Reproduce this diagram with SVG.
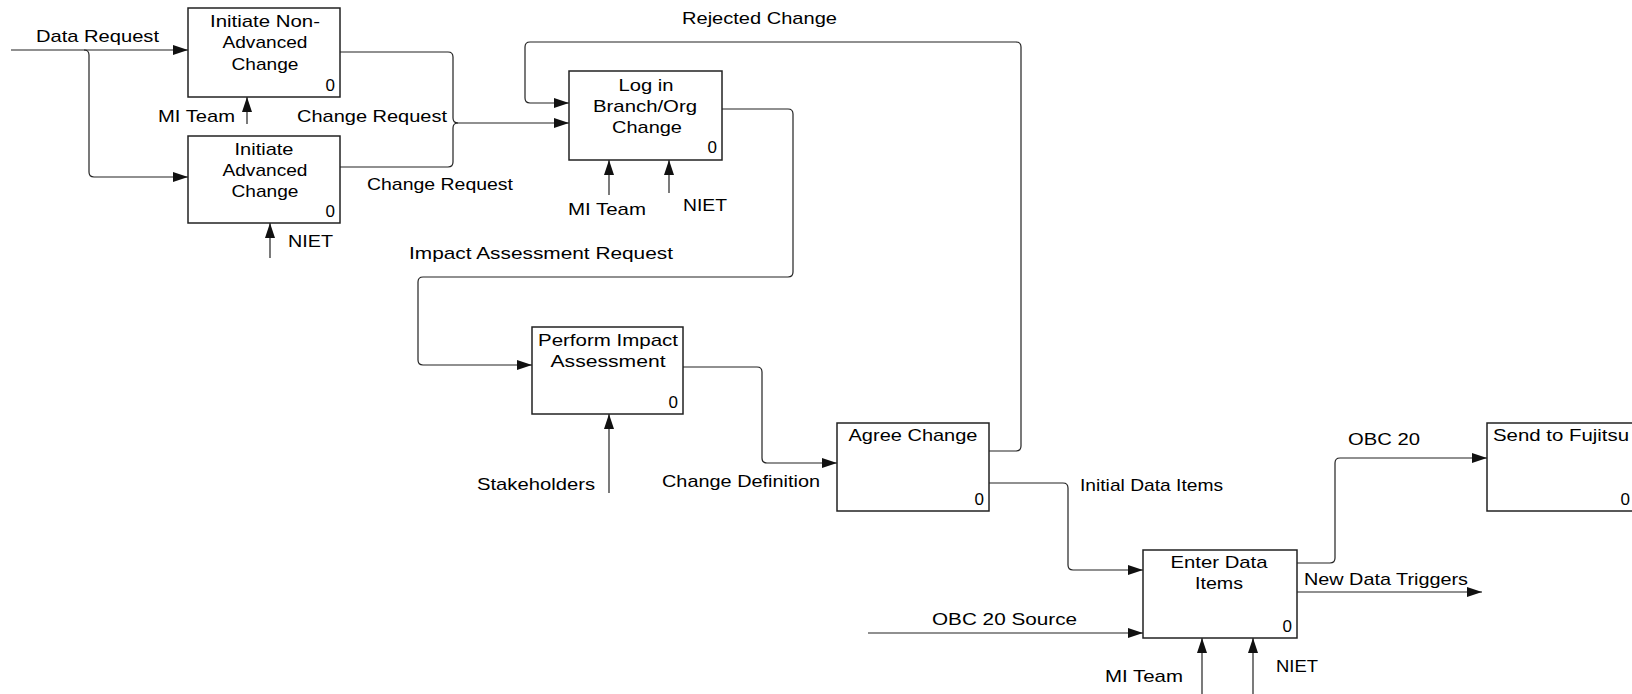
<svg xmlns="http://www.w3.org/2000/svg" width="1632" height="694" viewBox="0 0 1632 694">
<style>
text{font-family:"Liberation Sans",Arial,sans-serif;font-size:17px;fill:#000}
.c{text-anchor:middle}
.e{text-anchor:end}
.box{fill:#fff;stroke:#222;stroke-width:1.5}
.ln{fill:none;stroke:#222;stroke-width:1.2}
</style>
<defs>
<marker id="ar" markerUnits="userSpaceOnUse" markerWidth="16" markerHeight="11" refX="15" refY="5" orient="auto">
<path d="M0,0 L15,5 L0,10 z" fill="#111"/>
</marker>
</defs>
<rect width="1632" height="694" fill="#fff"/>

<g id="connectors">
<path class="ln" d="M11,50 H188" marker-end="url(#ar)"/>
<path class="ln" d="M84,50 Q89,50 89,55 V172 Q89,177 94,177 H188" marker-end="url(#ar)"/>
<path class="ln" d="M340,52 H448 Q453,52 453,57 V118 Q453,123 458,123 H569" marker-end="url(#ar)"/>
<path class="ln" d="M340,167 H448 Q453,167 453,162 V128 Q453,123 458,123"/>
<path class="ln" d="M247,124 V97" marker-end="url(#ar)"/>
<path class="ln" d="M270,258 V223" marker-end="url(#ar)"/>
<path class="ln" d="M989,451 H1016 Q1021,451 1021,446 V47 Q1021,42 1016,42 H530 Q525,42 525,47 V98 Q525,103 530,103 H569" marker-end="url(#ar)"/>
<path class="ln" d="M609,195 V160" marker-end="url(#ar)"/>
<path class="ln" d="M669,193 V160" marker-end="url(#ar)"/>
<path class="ln" d="M722,109 H788 Q793,109 793,114 V272 Q793,277 788,277 H423 Q418,277 418,282 V360 Q418,365 423,365 H532" marker-end="url(#ar)"/>
<path class="ln" d="M609,493 V414" marker-end="url(#ar)"/>
<path class="ln" d="M683,367 H757 Q762,367 762,372 V458 Q762,463 767,463 H837" marker-end="url(#ar)"/>
<path class="ln" d="M989,483 H1063 Q1068,483 1068,488 V565 Q1068,570 1073,570 H1143" marker-end="url(#ar)"/>
<path class="ln" d="M868,633 H1143" marker-end="url(#ar)"/>
<path class="ln" d="M1202,694 V638" marker-end="url(#ar)"/>
<path class="ln" d="M1253,694 V638" marker-end="url(#ar)"/>
<path class="ln" d="M1297,563 H1330 Q1335,563 1335,558 V463 Q1335,458 1340,458 H1487" marker-end="url(#ar)"/>
<path class="ln" d="M1297,592 H1482" marker-end="url(#ar)"/>

<text x="36" y="42" textLength="123" lengthAdjust="spacingAndGlyphs">Data Request</text>
<text x="158" y="122" textLength="77" lengthAdjust="spacingAndGlyphs">MI Team</text>
<text x="297" y="122" textLength="150" lengthAdjust="spacingAndGlyphs">Change Request</text>
<text x="367" y="190" textLength="146" lengthAdjust="spacingAndGlyphs">Change Request</text>
<text x="288" y="247" textLength="45" lengthAdjust="spacingAndGlyphs">NIET</text>
<text x="682" y="24" textLength="155" lengthAdjust="spacingAndGlyphs">Rejected Change</text>
<text x="568" y="215" textLength="78" lengthAdjust="spacingAndGlyphs">MI Team</text>
<text x="683" y="211" textLength="44" lengthAdjust="spacingAndGlyphs">NIET</text>
<text x="409" y="259" textLength="264" lengthAdjust="spacingAndGlyphs">Impact Assessment Request</text>
<text x="477" y="490" textLength="118" lengthAdjust="spacingAndGlyphs">Stakeholders</text>
<text x="662" y="487" textLength="158" lengthAdjust="spacingAndGlyphs">Change Definition</text>
<text x="1080" y="491" textLength="143" lengthAdjust="spacingAndGlyphs">Initial Data Items</text>
<text x="932" y="625" textLength="145" lengthAdjust="spacingAndGlyphs">OBC 20 Source</text>
<text x="1105" y="682" textLength="78" lengthAdjust="spacingAndGlyphs">MI Team</text>
<text x="1276" y="672" textLength="42" lengthAdjust="spacingAndGlyphs">NIET</text>
<text x="1348" y="445" textLength="72" lengthAdjust="spacingAndGlyphs">OBC 20</text>
<text x="1304" y="585" textLength="164" lengthAdjust="spacingAndGlyphs">New Data Triggers</text>
</g>

<g id="node-initiate-non-advanced">
<rect class="box" x="188" y="8" width="152" height="89"/>
<text class="c" x="265" y="27" textLength="110" lengthAdjust="spacingAndGlyphs">Initiate Non-</text>
<text class="c" x="265" y="48" textLength="85" lengthAdjust="spacingAndGlyphs">Advanced</text>
<text class="c" x="265" y="70" textLength="67" lengthAdjust="spacingAndGlyphs">Change</text>
<text class="e" x="335" y="91">0</text>
</g>

<g id="node-initiate-advanced">
<rect class="box" x="188" y="136" width="152" height="87"/>
<text class="c" x="264" y="155" textLength="59" lengthAdjust="spacingAndGlyphs">Initiate</text>
<text class="c" x="265" y="176" textLength="85" lengthAdjust="spacingAndGlyphs">Advanced</text>
<text class="c" x="265" y="197" textLength="67" lengthAdjust="spacingAndGlyphs">Change</text>
<text class="e" x="335" y="217">0</text>
</g>

<g id="node-log-in">
<rect class="box" x="569" y="71" width="153" height="89"/>
<text class="c" x="646" y="91" textLength="55" lengthAdjust="spacingAndGlyphs">Log in</text>
<text class="c" x="645" y="112" textLength="104" lengthAdjust="spacingAndGlyphs">Branch/Org</text>
<text class="c" x="647" y="133" textLength="70" lengthAdjust="spacingAndGlyphs">Change</text>
<text class="e" x="717" y="153">0</text>
</g>

<g id="node-perform-impact">
<rect class="box" x="532" y="327" width="151" height="87"/>
<text class="c" x="608" y="346" textLength="140" lengthAdjust="spacingAndGlyphs">Perform Impact</text>
<text class="c" x="608" y="367" textLength="115" lengthAdjust="spacingAndGlyphs">Assessment</text>
<text class="e" x="678" y="408">0</text>
</g>

<g id="node-agree-change">
<rect class="box" x="837" y="423" width="152" height="88"/>
<text class="c" x="913" y="441" textLength="129" lengthAdjust="spacingAndGlyphs">Agree Change</text>
<text class="e" x="984" y="505">0</text>
</g>

<g id="node-enter-data">
<rect class="box" x="1143" y="550" width="154" height="88"/>
<text class="c" x="1219" y="568" textLength="97" lengthAdjust="spacingAndGlyphs">Enter Data</text>
<text class="c" x="1219" y="589" textLength="48" lengthAdjust="spacingAndGlyphs">Items</text>
<text class="e" x="1292" y="632">0</text>
</g>

<g id="node-send-fujitsu">
<rect class="box" x="1487" y="423" width="152" height="88"/>
<text x="1493" y="441" textLength="136" lengthAdjust="spacingAndGlyphs">Send to Fujitsu</text>
<text class="e" x="1630" y="505">0</text>
</g>
</svg>
